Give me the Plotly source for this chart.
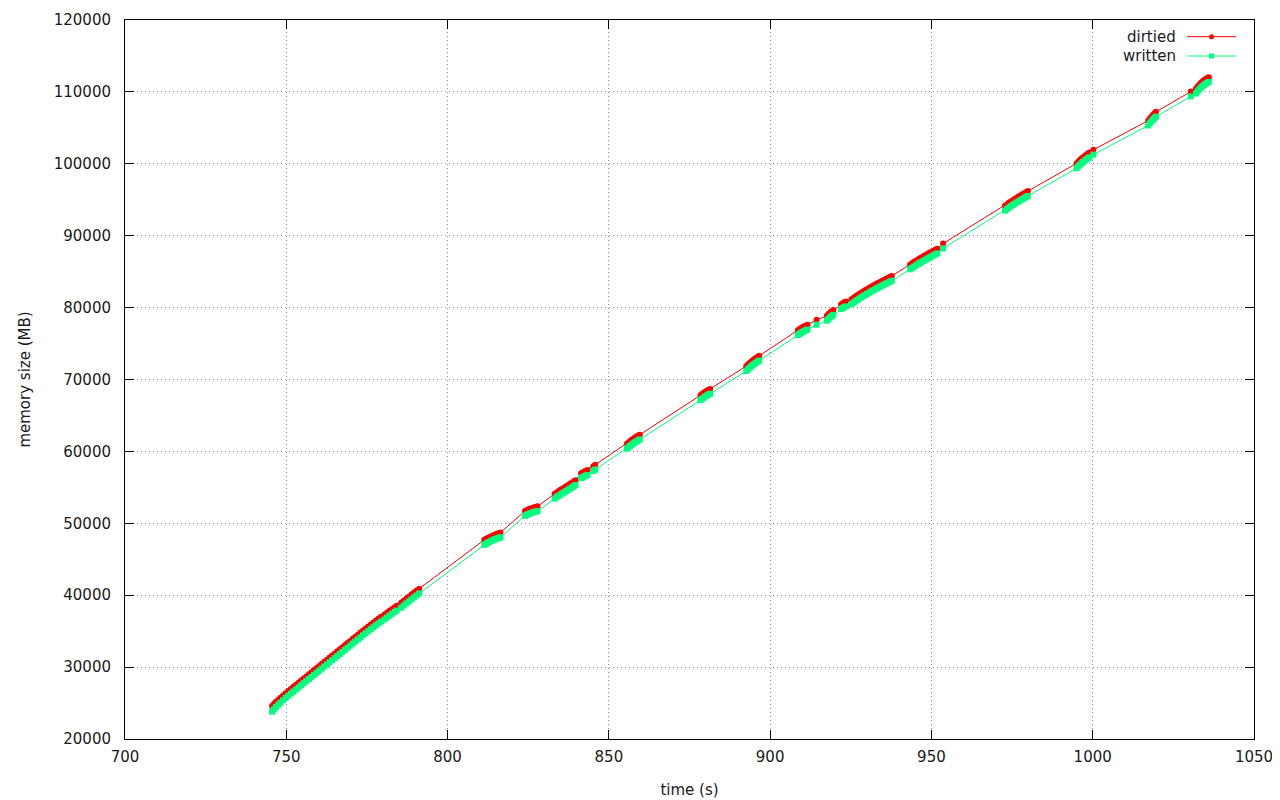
import plotly.graph_objects as go

# time (s)
time_s = [
    745.6, 746.2, 746.8, 747.5, 748.2, 749.0, 749.8, 750.6, 751.4, 752.2,
    753.0, 753.8, 754.6, 755.4, 756.2, 757.0, 757.8, 758.6, 759.4, 760.2,
    761.0, 761.8, 762.6, 763.4, 764.2, 765.0, 765.8, 766.6, 767.4, 768.2,
    769.0, 769.8, 770.6, 771.4, 772.2, 773.0, 773.8, 774.6, 775.4, 776.2,
    777.0, 777.8, 778.6, 779.4, 780.4, 781.2, 782.0, 782.8, 783.6, 784.2,
    785.6, 786.4, 787.2, 788.0, 788.8, 789.6, 790.4, 791.2,
    811.4, 811.9, 812.4, 812.9, 813.4, 813.9, 814.4, 814.9, 815.4, 815.9, 816.4,
    824.0, 824.5, 825.0, 825.5, 826.0, 826.5, 827.0, 827.5, 827.9,
    833.2, 833.8, 834.4, 835.0, 835.6, 836.2, 836.8, 837.4, 838.0, 838.6, 839.2, 839.7,
    841.4, 841.9, 842.4, 842.9, 843.4,
    845.2, 845.8,
    855.6, 856.1, 856.6, 857.1, 857.6, 858.1, 858.6, 859.1, 859.6,
    878.4, 878.9, 879.4, 879.9, 880.4, 880.9, 881.4,
    892.6, 893.1, 893.6, 894.1, 894.6, 895.1, 895.6, 896.1, 896.6,
    908.6, 909.1, 909.6, 910.1, 910.6, 911.1, 911.6,
    914.4,
    917.6, 918.1, 918.6, 919.1, 919.6,
    922.0, 922.5, 923.0, 923.5,
    925.2, 925.8, 926.4, 927.0, 927.6, 928.2, 928.8, 929.4, 930.0, 930.6, 931.2,
    931.8, 932.4, 933.0, 933.6, 934.2, 934.8, 935.4, 936.0, 936.6, 937.2, 937.7,
    943.4, 944.0, 944.6, 945.2, 945.8, 946.4, 947.0, 947.6, 948.2, 948.8, 949.4,
    950.0, 950.6, 951.2, 951.8,
    953.6,
    972.8, 973.4, 974.0, 974.6, 975.2, 975.8, 976.4, 977.0, 977.6, 978.2, 978.8, 979.4, 979.9,
    995.0, 995.5, 996.0, 996.5, 997.0, 997.5, 998.0, 998.5, 999.0,
    1000.2,
    1017.2, 1017.7, 1018.2, 1018.7, 1019.2, 1019.6,
    1030.4,
    1032.0, 1032.5, 1033.0, 1033.5, 1034.0, 1034.5, 1035.0, 1035.5, 1036.0,
]

dirtied_mb = [
    24600, 24900, 25180, 25460, 25740, 26060, 26380, 26680, 26970, 27260,
    27550, 27840, 28130, 28420, 28710, 29000, 29290, 29580, 29870, 30160,
    30450, 30740, 31030, 31320, 31610, 31900, 32190, 32480, 32770, 33060,
    33350, 33640, 33930, 34220, 34510, 34800, 35090, 35370, 35650, 35930,
    36210, 36480, 36750, 37020, 37300, 37560, 37820, 38080, 38340, 38520,
    38960, 39240, 39520, 39800, 40080, 40360, 40640, 40900,
    47700, 47830, 47950, 48060, 48170, 48280, 48380, 48470, 48560, 48640, 48720,
    51700, 51820, 51930, 52030, 52110, 52180, 52250, 52310, 52360,
    54100, 54300, 54480, 54650, 54820, 54990, 55160, 55330, 55500, 55670, 55850, 56000,
    56950, 57080, 57200, 57310, 57400,
    57950, 58150,
    61050, 61250, 61440, 61610, 61770, 61920, 62060, 62200, 62330,
    67800, 67980, 68150, 68300, 68440, 68570, 68690,
    71850, 72080, 72290, 72480, 72660, 72830, 72990, 73150, 73300,
    76850, 77010, 77160, 77290, 77410, 77520, 77620,
    78300,
    78850, 79100, 79320, 79500, 79650,
    80480, 80620, 80740, 80840,
    81150, 81350, 81540, 81720, 81900, 82070, 82240, 82400, 82560, 82720, 82880,
    83030, 83180, 83330, 83470, 83610, 83750, 83890, 84020, 84150, 84280, 84400,
    86000, 86180, 86360, 86530, 86700, 86860, 87020, 87180, 87330, 87480, 87630,
    87780, 87920, 88060, 88200,
    88900,
    94150, 94370, 94570, 94760, 94940, 95110, 95280, 95440, 95600, 95760, 95920, 96070, 96200,
    100050, 100300, 100520, 100730, 100920, 101100, 101270, 101430, 101580,
    101950,
    106000, 106300, 106580, 106830, 107060, 107230,
    110050,
    110450, 110740, 111010, 111250, 111460, 111640, 111800, 111930, 112050,
]

written_mb = [
    23800, 24140, 24450, 24760, 25060, 25390, 25710, 26020, 26310, 26600,
    26890, 27180, 27470, 27760, 28050, 28340, 28630, 28920, 29210, 29500,
    29790, 30080, 30370, 30660, 30950, 31240, 31530, 31820, 32110, 32400,
    32690, 32980, 33270, 33560, 33850, 34140, 34430, 34710, 34990, 35270,
    35550, 35820, 36090, 36340, 36620, 36890, 37160, 37420, 37680, 37850,
    38260, 38560, 38850, 39130, 39410, 39690, 39970, 40240,
    47000, 47150, 47280, 47400, 47510, 47620, 47720, 47810, 47900, 47980, 48060,
    51020, 51150, 51260, 51360, 51440, 51520, 51590, 51650, 51700,
    53420, 53630, 53810, 53980, 54150, 54320, 54490, 54660, 54830, 55000, 55180, 55330,
    56280, 56410, 56530, 56640, 56730,
    57280, 57480,
    60380, 60580, 60770, 60940, 61100, 61250, 61390, 61530, 61660,
    67130, 67310, 67480, 67630, 67770, 67900, 68020,
    71180, 71410, 71620, 71810, 71990, 72160, 72320, 72480, 72630,
    76180, 76340, 76490, 76620, 76740, 76850, 76950,
    77630,
    78180, 78430, 78650, 78830, 78980,
    79810, 79950, 80070, 80170,
    80480, 80680, 80870, 81050, 81230, 81400, 81570, 81730, 81890, 82050, 82210,
    82360, 82510, 82660, 82800, 82940, 83080, 83220, 83350, 83480, 83610, 83730,
    85330, 85510, 85690, 85860, 86030, 86190, 86350, 86510, 86660, 86810, 86960,
    87110, 87250, 87390, 87530,
    88230,
    93480, 93700, 93900, 94090, 94270, 94440, 94610, 94770, 94930, 95090, 95250, 95400, 95530,
    99380, 99630, 99850, 100060, 100250, 100430, 100600, 100760, 100910,
    101280,
    105330, 105630, 105910, 106160, 106390, 106560,
    109380,
    109780, 110070, 110340, 110580, 110790, 110970, 111130, 111260, 111380,
]

x_ticks = [700, 750, 800, 850, 900, 950, 1000, 1050]
y_ticks = [20000, 30000, 40000, 50000, 60000, 70000, 80000, 90000, 100000, 110000, 120000]

series_names = ["dirtied", "written"]
RED = "#ff0000"
GREEN = "#00ff7f"
FONT = "DejaVu Sans"
TXT = "#1a1a1a"

fig = go.Figure()
fig.add_trace(go.Scatter(
    x=time_s, y=dirtied_mb, name=series_names[0], mode="lines+markers",
    line=dict(color=RED, width=1),
    marker=dict(symbol="circle", size=6, color=RED, line=dict(width=0)),
    showlegend=False,
))
fig.add_trace(go.Scatter(
    x=time_s, y=written_mb, name=series_names[1], mode="lines+markers",
    line=dict(color=GREEN, width=1),
    marker=dict(symbol="square", size=6, color=GREEN, line=dict(width=0)),
    showlegend=False,
))

axis_common = dict(
    showline=True, linecolor="black", linewidth=1, mirror="ticks",
    ticks="inside", ticklen=9, tickwidth=1, tickcolor="black",
    showgrid=True, gridcolor="#8c8c8c", gridwidth=1, griddash="1px,3px",
    zeroline=False, automargin=False,
    tickfont=dict(family=FONT, size=15, color=TXT),
)

fig.update_xaxes(
    range=[700, 1050], tickvals=x_ticks, ticktext=[str(v) for v in x_ticks],
    title=dict(text="time (s)", font=dict(family=FONT, size=15, color=TXT), standoff=19),
    ticklabelstandoff=4,
    **axis_common,
)
fig.update_yaxes(
    range=[20000, 120000], tickvals=y_ticks, ticktext=[str(v) for v in y_ticks],
    title=dict(text="memory size (MB)", font=dict(family=FONT, size=15, color=TXT), standoff=19),
    ticklabelstandoff=10,
    **axis_common,
)

# page body has an 8px margin: figure is offset by 8px in the browser window
OFF = 8
W, H = 1280 - OFF, 800 - OFF
ml, mr, mt, mb = 124.7 - OFF, 26, 20 - OFF, 61
pw, ph = W - ml - mr, H - mt - mb

def px_to_paper_x(px):
    return (px - OFF - ml) / pw

def px_to_paper_y(py):
    return 1 - (py - OFF - mt) / ph

# gnuplot-style legend (text right, sample on the right)
legend_rows = [(series_names[0], RED, "circle", 36.7), (series_names[1], GREEN, "square", 56)]
shapes = []
annotations = []
for name, col, sym, py in legend_rows:
    annotations.append(dict(
        x=px_to_paper_x(1178), y=px_to_paper_y(py), xref="paper", yref="paper",
        text=name, showarrow=False, xanchor="right", yanchor="middle",
        font=dict(family=FONT, size=15, color=TXT),
    ))
    shapes.append(dict(
        type="line", xref="paper", yref="paper",
        x0=px_to_paper_x(1187), x1=px_to_paper_x(1236),
        y0=px_to_paper_y(py), y1=px_to_paper_y(py),
        line=dict(color=col, width=1),
    ))
    shapes.append(dict(
        type="circle" if sym == "circle" else "rect",
        xref="paper", yref="paper", xsizemode="pixel", ysizemode="pixel",
        xanchor=px_to_paper_x(1211.5), yanchor=px_to_paper_y(py),
        x0=-2.5, x1=2.5, y0=-2.5, y1=2.5,
        fillcolor=col, line=dict(width=0),
    ))

fig.update_layout(
    width=W, height=H,
    margin=dict(l=ml, r=mr, t=mt, b=mb, autoexpand=False),
    paper_bgcolor="white", plot_bgcolor="white",
    font=dict(family=FONT, size=15, color=TXT),
    shapes=shapes, annotations=annotations,
)

fig.write_html("out.html")
